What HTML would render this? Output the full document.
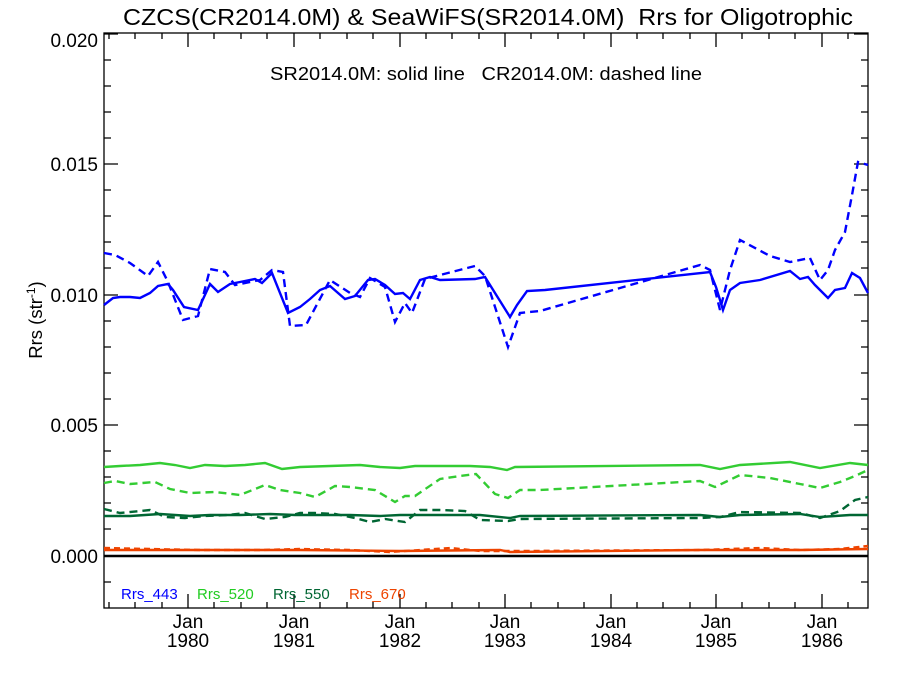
<!DOCTYPE html>
<html><head><style>body{margin:0;background:#fff}svg{display:block}text{font-family:"Liberation Sans",sans-serif;white-space:pre}</style></head><body>
<svg width="900" height="675" xmlns="http://www.w3.org/2000/svg">
<text x="488" y="25" font-size="23.5" text-anchor="middle" textLength="730" lengthAdjust="spacingAndGlyphs">CZCS(CR2014.0M) &amp; SeaWiFS(SR2014.0M)  Rrs for Oligotrophic</text>
<text x="486" y="80" font-size="18.5" text-anchor="middle" textLength="432" lengthAdjust="spacingAndGlyphs">SR2014.0M: solid line   CR2014.0M: dashed line</text>
<g stroke="#000" stroke-width="1.3" fill="none">
<rect x="104" y="33" width="764" height="575"/>
<path d="M104,34h14M104,164h14M104,295h14M104,425h14M104,556h14M868,34h-14M868,164h-14M868,295h-14M868,425h-14M868,556h-14"/>
<path d="M104,60h7M104,86h7M104,112h7M104,138h7M104,190h7M104,216h7M104,242h7M104,268h7M104,321h7M104,347h7M104,373h7M104,399h7M104,451h7M104,477h7M104,503h7M104,529h7M104,582h7M868,60h-7M868,86h-7M868,112h-7M868,138h-7M868,190h-7M868,216h-7M868,242h-7M868,268h-7M868,321h-7M868,347h-7M868,373h-7M868,399h-7M868,451h-7M868,477h-7M868,503h-7M868,529h-7M868,582h-7"/>
<path d="M188,608v-14M294,608v-14M400,608v-14M505,608v-14M611,608v-14M716,608v-14M822,608v-14M188,33v14M294,33v14M400,33v14M505,33v14M611,33v14M716,33v14M822,33v14"/>
<path d="M109,608v-6M135,608v-6M162,608v-6M214,608v-6M241,608v-6M267,608v-6M320,608v-6M347,608v-6M373,608v-6M426,608v-6M452,608v-6M479,608v-6M531,608v-6M558,608v-6M584,608v-6M637,608v-6M663,608v-6M690,608v-6M742,608v-6M769,608v-6M795,608v-6M848,608v-6M109,33v6M135,33v6M162,33v6M214,33v6M241,33v6M267,33v6M320,33v6M347,33v6M373,33v6M426,33v6M452,33v6M479,33v6M531,33v6M558,33v6M584,33v6M637,33v6M663,33v6M690,33v6M742,33v6M769,33v6M795,33v6M848,33v6"/>
</g>
<line x1="104" y1="556" x2="868" y2="556" stroke="#000" stroke-width="2.5"/>
<g font-size="19" text-anchor="end"><text x="98" y="47">0.020</text><text x="98" y="171">0.015</text><text x="98" y="302">0.010</text><text x="98" y="432">0.005</text><text x="98" y="563">0.000</text></g>
<g font-size="19" text-anchor="middle">
<text x="188" y="628">Jan</text><text x="188" y="647">1980</text>
<text x="294" y="628">Jan</text><text x="294" y="647">1981</text>
<text x="400" y="628">Jan</text><text x="400" y="647">1982</text>
<text x="505" y="628">Jan</text><text x="505" y="647">1983</text>
<text x="611" y="628">Jan</text><text x="611" y="647">1984</text>
<text x="716" y="628">Jan</text><text x="716" y="647">1985</text>
<text x="822" y="628">Jan</text><text x="822" y="647">1986</text>
</g>
<text transform="translate(42,320) rotate(-90)" font-size="18.5" text-anchor="middle">Rrs (str<tspan font-size="12" dy="-7">-1</tspan><tspan dy="7">)</tspan></text>
<g font-size="15"><text x="121" y="599" fill="#0000ff">Rrs_443</text><text x="197" y="599" fill="#22cc22">Rrs_520</text><text x="273" y="599" fill="#006633">Rrs_550</text><text x="349" y="599" fill="#ee4400">Rrs_670</text></g>
<g fill="none" stroke-width="2.4">
<polyline stroke="#0000ff" points="104,305 113,298 120,297 130,297 140,298 150,293 158,286 168,284 173,290 184,307 198,310 210,284 218,292 230,284 240,282 255,279 262,283 272,273 288,313 300,307 310,299 320,290 330,286 345,299 355,296 368,280 375,279 385,285 395,294 403,293 410,299 420,280 430,277 440,280 475,279 485,277 510,317 517,305 527,291 545,290 710,272 716,287 720,300 723,310 730,290 740,283 760,280 790,271 800,279 808,277 815,285 828,298 835,290 845,288 852,273 860,278 868,293"/>
<polyline stroke="#0000ff" stroke-dasharray="8,5" points="104,253 115,255 130,263 148,276 158,262 168,282 183,320 198,316 210,269 225,272 235,285 260,280 272,270 283,272 290,326 306,325 330,280 350,293 360,297 370,278 385,287 395,322 405,303 412,313 425,279 440,275 475,266 485,276 508,347 520,313 540,311 700,265 710,270 720,310 730,270 740,240 770,256 790,262 810,258 820,280 828,270 835,250 845,232 852,195 858,162 868,165"/>
<polyline stroke="#33cc33" points="104,467 120,466 140,465 160,463 175,465 190,468 205,465 225,466 245,465 265,463 282,469 300,467 330,466 360,465 380,467 400,468 415,466 440,466 470,466 490,467 507,470 515,467 700,465 720,469 740,465 790,462 820,468 850,463 868,465"/>
<polyline stroke="#33cc33" stroke-dasharray="8,5" points="104,483 115,481 130,484 155,482 170,489 190,493 215,492 240,495 255,489 265,485 280,490 300,493 315,497 335,486 350,487 375,490 395,502 405,496 415,496 440,479 460,476 476,474 495,494 508,498 520,490 540,490 700,481 715,487 740,475 770,478 800,484 820,488 840,482 855,476 868,470"/>
<polyline stroke="#006633" points="104,516 130,516 160,514 190,516 210,515 240,515 270,514 295,515 320,515 350,515 380,516 400,515 440,515 480,515 510,518 520,516 700,515 720,517 740,515 800,514 820,517 850,515 868,515"/>
<polyline stroke="#006633" stroke-dasharray="8,5" points="104,509 120,513 150,510 165,517 185,518 205,516 228,515 245,513 265,519 285,517 300,513 315,513 335,514 355,518 370,522 385,519 405,522 420,510 440,510 465,511 480,520 508,521 520,519 700,518 720,517 740,512 800,513 820,518 840,511 855,500 868,497"/>
<polyline stroke="#ee4400" points="104,550 200,550 300,550 400,551 500,550 510,552 700,550 800,550 868,549"/>
<polyline stroke="#ee4400" stroke-dasharray="6,4" points="104,548 150,549 200,550 260,550 300,549 350,550 390,552 420,550 450,548 480,551 520,551 700,550 760,548 800,550 840,549 868,546"/>
</g>
</svg>
</body></html>
